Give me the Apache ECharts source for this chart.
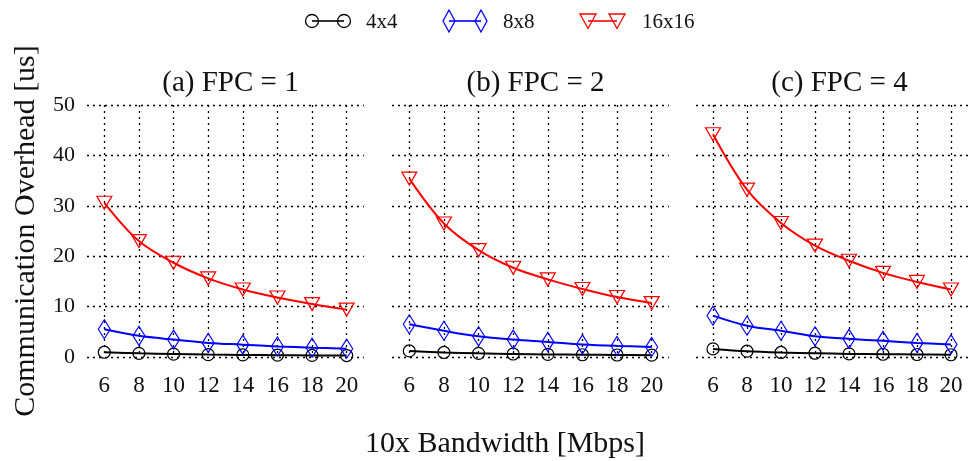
<!DOCTYPE html>
<html>
<head>
<meta charset="utf-8">
<script src="https://cdn.jsdelivr.net/npm/echarts@6/dist/echarts.min.js"></script>
<style>
  html, body { margin: 0; padding: 0; background: #fff; }
  #chart { width: 968px; height: 461px; }
</style>
</head>
<body>
<div id="chart"></div>
<script>
// Bandwidth steps (x values shared by every panel)
const bandwidth = [6, 8, 10, 12, 14, 16, 18, 20];
const yTicks = [0, 10, 20, 30, 40, 50];
const panelTitles = ['(a) FPC = 1', '(b) FPC = 2', '(c) FPC = 4'];
const seriesNames = ['4x4', '8x8', '16x16'];

// Communication overhead [us], FPC = 1
const fpc1_4x4   = [0.95, 0.72, 0.58, 0.48, 0.41, 0.36, 0.32, 0.29];
const fpc1_8x8   = [5.5, 4.2, 3.45, 2.8, 2.45, 2.1, 1.85, 1.65];
const fpc1_16x16 = [30.6, 23.0, 18.7, 15.6, 13.4, 11.8, 10.5, 9.4];

// FPC = 2
const fpc2_4x4   = [1.2, 0.9, 0.72, 0.6, 0.52, 0.45, 0.4, 0.36];
const fpc2_8x8   = [6.5, 5.2, 4.1, 3.45, 3.0, 2.5, 2.2, 2.0];
const fpc2_16x16 = [35.4, 26.5, 21.2, 17.7, 15.4, 13.5, 11.9, 10.7];

// FPC = 4
const fpc4_4x4   = [1.6, 1.15, 0.9, 0.75, 0.62, 0.55, 0.5, 0.45];
const fpc4_8x8   = [8.2, 6.2, 5.2, 4.1, 3.6, 3.2, 2.8, 2.5];
const fpc4_16x16 = [44.2, 33.2, 26.6, 22.1, 19.1, 16.7, 14.9, 13.4];

const panels = [
  [fpc1_4x4, fpc1_8x8, fpc1_16x16],
  [fpc2_4x4, fpc2_8x8, fpc2_16x16],
  [fpc4_4x4, fpc4_8x8, fpc4_16x16]
];

const FONT = '"Liberation Serif", "DejaVu Serif", serif';
const colors = ['#000000', '#0000ff', '#ff0000'];
const symbols = [
  { symbol: 'circle',   size: 12,       rotate: 0 },
  { symbol: 'diamond',  size: [12, 19], rotate: 0 },
  { symbol: 'triangle', size: [15, 13], rotate: 180 }
];

const gridLefts = [87, 392, 696];
const gridWidth = 277;
const gridTop = 105;
const gridBottom = 104;

const dotted = { color: '#000', width: 1.3, type: [2, 4] };

const grids = [], xAxes = [], yAxes = [], series = [], titles = [];

gridLefts.forEach((left, p) => {
  grids.push({ left: left, top: gridTop, width: gridWidth, bottom: gridBottom });
  titles.push({
    text: panelTitles[p],
    left: left + gridWidth / 2,
    textAlign: 'center',
    top: 64,
    textStyle: { fontFamily: FONT, fontSize: 29, fontWeight: 'normal', color: '#111' }
  });
  xAxes.push({
    type: 'value', gridIndex: p, min: 5, max: 21,
    axisLine: { show: false },
    axisTick: { show: false, customValues: bandwidth },
    axisLabel: { customValues: bandwidth, fontFamily: FONT, fontSize: 23, color: '#111', margin: 17 },
    splitLine: { show: true, lineStyle: dotted }
  });
  yAxes.push({
    type: 'value', gridIndex: p, min: 0, max: 50, interval: 10,
    axisLine: { show: false },
    axisTick: { show: false },
    axisLabel: { show: p === 0, fontFamily: FONT, fontSize: 22, color: '#111', margin: 12 },
    splitLine: { show: true, lineStyle: dotted },
    name: p === 0 ? 'Communication Overhead [us]' : '',
    nameLocation: 'middle',
    nameGap: 46,
    nameTextStyle: { fontFamily: FONT, fontSize: 30, color: '#111' }
  });
  panels[p].forEach((vals, s) => {
    series.push({
      name: seriesNames[s],
      type: 'line',
      xAxisIndex: p, yAxisIndex: p,
      data: bandwidth.map((b, i) => [b, vals[i]]),
      smooth: 0.35,
      symbol: symbols[s].symbol,
      symbolSize: symbols[s].size,
      symbolRotate: symbols[s].rotate,
      showAllSymbol: true,
      lineStyle: { color: colors[s], width: 2 },
      itemStyle: { color: 'rgba(255,255,255,0)', borderColor: colors[s], borderWidth: 1.2 },
      emphasis: { disabled: true },
      z: 2 + s
    });
  });
});

// Axis title for the shared x quantity
titles.push({
  text: '10x Bandwidth [Mbps]',
  left: 500, textAlign: 'center', top: 424,
  textStyle: { fontFamily: FONT, fontSize: 30, fontWeight: 'normal', color: '#111' }
});

// Legend: a short line with a marker at each end, then the label
const legendItems = [
  { x1: 312, x2: 344, tx: 366 },
  { x1: 449, x2: 481, tx: 503 },
  { x1: 588, x2: 617, tx: 642 }
];
const legendY = 21;
function markerShape(s, cx, cy) {
  const stroke = { stroke: colors[s], lineWidth: 1.3, fill: 'rgba(255,255,255,0)' };
  if (s === 0) return { type: 'circle', shape: { cx: cx, cy: cy, r: 6.5 }, style: stroke };
  if (s === 1) return { type: 'polygon', shape: { points: [[cx, cy - 11], [cx + 6, cy], [cx, cy + 11], [cx - 6, cy]] }, style: stroke };
  return { type: 'polygon', shape: { points: [[cx - 8, cy - 7], [cx + 8, cy - 7], [cx, cy + 7.5]] }, style: stroke };
}
const legendGraphics = [];
legendItems.forEach((it, s) => {
  legendGraphics.push({ type: 'line', shape: { x1: it.x1, y1: legendY, x2: it.x2, y2: legendY }, style: { stroke: colors[s], lineWidth: 1.6 } });
  legendGraphics.push(markerShape(s, it.x1, legendY));
  legendGraphics.push(markerShape(s, it.x2, legendY));
  legendGraphics.push({
    type: 'text', x: it.tx, y: legendY + 1,
    style: { text: seriesNames[s], fontFamily: FONT, fontSize: 21, fill: '#111', verticalAlign: 'middle' }
  });
});

const chart = echarts.init(document.getElementById('chart'), null, { renderer: 'canvas' });
chart.setOption({
  animation: false,
  backgroundColor: '#fff',
  title: titles,
  grid: grids,
  xAxis: xAxes,
  yAxis: yAxes,
  series: series,
  graphic: legendGraphics
});
</script>
</body>
</html>
